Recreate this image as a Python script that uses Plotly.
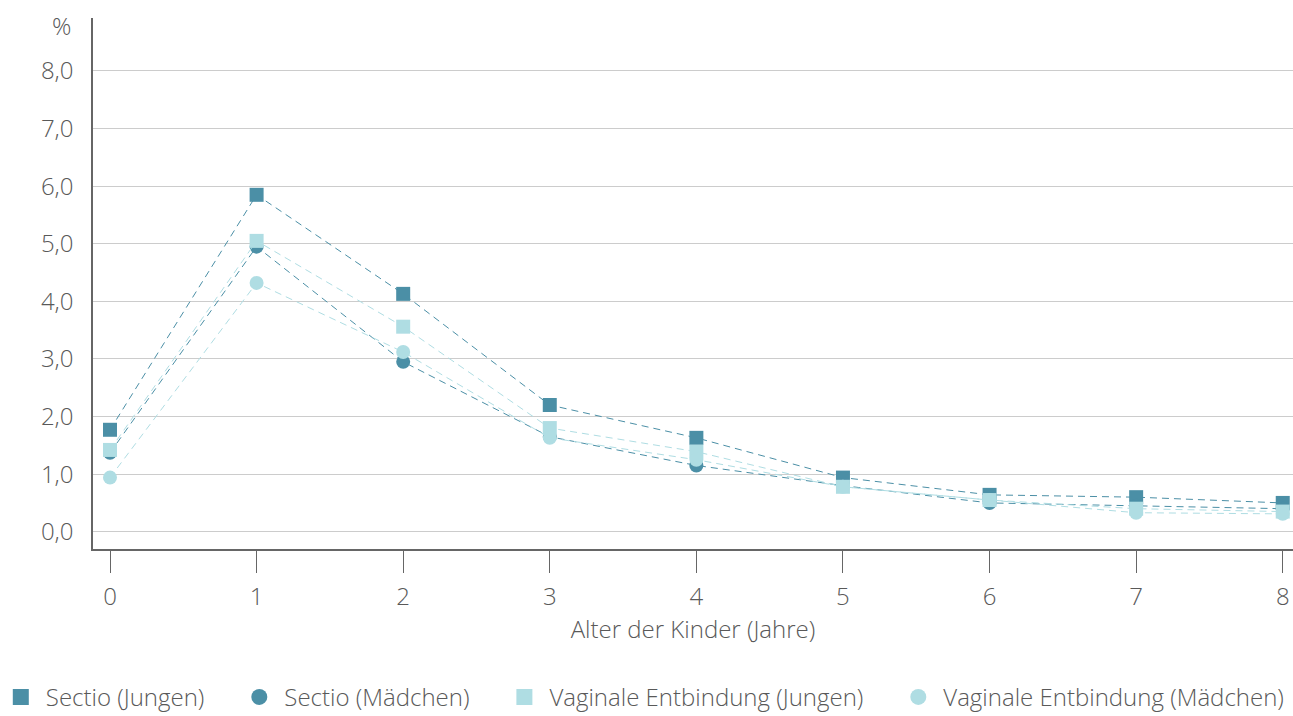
import plotly.graph_objects as go

ages = [0, 1, 2, 3, 4, 5, 6, 7, 8]
sectio_jungen = [1.77, 5.85, 4.13, 2.20, 1.63, 0.94, 0.64, 0.60, 0.50]
sectio_maedchen = [1.37, 4.95, 2.95, 1.65, 1.15, 0.80, 0.50, 0.45, 0.40]
vaginal_jungen = [1.42, 5.05, 3.56, 1.80, 1.39, 0.78, 0.55, 0.40, 0.35]
vaginal_maedchen = [0.94, 4.32, 3.12, 1.63, 1.25, 0.78, 0.55, 0.33, 0.31]

names = ["Sectio (Jungen)", "Sectio (Mädchen)",
         "Vaginale Entbindung (Jungen)", "Vaginale Entbindung (Mädchen)"]
y_ticks = [0, 1, 2, 3, 4, 5, 6, 7, 8]
y_ticktext = ["0,0", "1,0", "2,0", "3,0", "4,0", "5,0", "6,0", "7,0", "8,0"]

DARK = "#4b8fa6"
LIGHT = "#afdde3"
FONT = "Open Sans"
TXT = "#595959"
FS = 24
W = 300
PAD = "\u00a0" * 4

series = [
    (sectio_jungen, DARK, "square"),
    (sectio_maedchen, DARK, "circle"),
    (vaginal_jungen, LIGHT, "square"),
    (vaginal_maedchen, LIGHT, "circle"),
]

fig = go.Figure()
for (vals, col, sym), name in zip(series, names):
    fig.add_trace(go.Scatter(
        x=ages, y=vals, mode="lines+markers", name=name, showlegend=False,
        line=dict(color=col, width=1, dash="7px,5px"),
        marker=dict(color=col, symbol=sym, size=14, line=dict(width=0)),
        cliponaxis=False,
    ))
for i, ((vals, col, sym), name) in enumerate(zip(series, names)):
    fig.add_trace(go.Scatter(
        x=[None], y=[None], mode="markers",
        name=name + (PAD if i < len(names) - 1 else ""), showlegend=True,
        marker=dict(color=col, symbol=sym, size=20, line=dict(width=0)),
    ))

fig.update_layout(
    width=1293, height=716,
    margin=dict(l=93, r=0, t=18, b=167, autoexpand=False),
    paper_bgcolor="white", plot_bgcolor="white",
    font=dict(family=FONT, size=FS, color=TXT, weight=W),
    showlegend=True,
    legend=dict(orientation="h", x=-0.081, xanchor="left", y=-0.237, yanchor="top",
                font=dict(size=FS, color=TXT, weight=W), itemsizing="trace",
                tracegroupgap=0, itemwidth=40),
    xaxis=dict(range=[-0.116, 8.07], tickvals=ages, showgrid=False, zeroline=False,
               automargin=False,
               showline=True, linecolor="#666666", linewidth=1.5,
               ticks="outside", ticklen=22, tickcolor="#666666", tickwidth=1,
               ticklabelstandoff=3,
               tickfont=dict(size=FS, color=TXT, weight=W),
               title=dict(text="Alter der Kinder (Jahre)",
                          font=dict(size=FS, color=TXT, weight=W), standoff=11)),
    yaxis=dict(range=[-0.3, 8.92], tickvals=y_ticks, ticktext=y_ticktext,
               automargin=False,
               showgrid=True, gridcolor="#cccccc", gridwidth=1, zeroline=False,
               showline=True, linecolor="#666666", linewidth=1.5, ticks="",
               ticklabelstandoff=13,
               tickfont=dict(size=FS, color=TXT, weight=W)),
)
fig.add_annotation(text="%", xref="paper", yref="paper", x=-0.017, y=0.985,
                   xanchor="right", yanchor="middle", showarrow=False,
                   font=dict(size=FS, color=TXT, weight=W))

fig.write_html("out.html", config={"displayModeBar": False},
               post_script="document.body.style.margin='0';document.body.style.overflow='hidden';")
